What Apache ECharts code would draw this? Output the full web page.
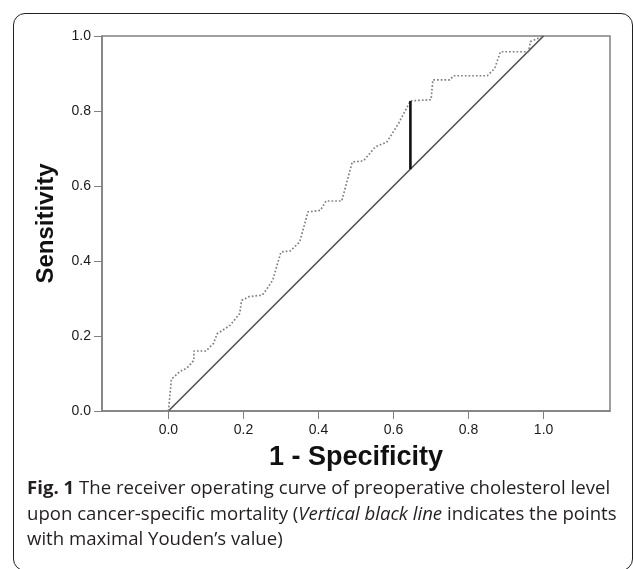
<!DOCTYPE html>
<html>
<head>
<meta charset="utf-8">
<script src="https://cdn.jsdelivr.net/npm/echarts@6/dist/echarts.min.js"></script>
<style>
  html, body { margin: 0; padding: 0; background: #fff; }
  #wrap { position: relative; width: 633px; height: 569px; overflow: hidden; }
  #chart { position: absolute; left: 0; top: 0; width: 633px; height: 569px; }
  .frame {
    position: absolute; left: 13px; top: 13px; width: 618px; height: 556px;
    border: 1.5px solid #222; border-radius: 12px; pointer-events: none;
  }
  .caption {
    position: absolute; left: 27px; top: 474px; width: 606px;
    font-family: "Open Sans", "Noto Sans", sans-serif; font-size: 18.6px;
    line-height: 25.5px; color: #231f20; white-space: nowrap;
  }
</style>
</head>
<body>
<div id="wrap">
  <div id="chart"></div>
  <div class="frame"></div>
  <div class="caption">
    <b>Fig. 1</b> The receiver operating curve of preoperative cholesterol level<br>
    upon cancer-specific mortality (<i>Vertical black line</i> indicates the points<br>
    with maximal Youden’s value)
  </div>
</div>
<script>
// ROC curve
const fpr = [0, 0.008, 0.03, 0.05, 0.068, 0.068, 0.1, 0.12, 0.13, 0.165, 0.19, 0.195, 0.215, 0.25, 0.26, 0.278, 0.3, 0.325, 0.35, 0.372, 0.405, 0.42, 0.462, 0.49, 0.52, 0.551, 0.582, 0.613, 0.645, 0.7, 0.705, 0.75, 0.76, 0.85, 0.87, 0.885, 0.96, 0.965, 1]
const tpr = [0, 0.085, 0.105, 0.115, 0.135, 0.16, 0.16, 0.18, 0.206, 0.229, 0.26, 0.295, 0.305, 0.309, 0.322, 0.349, 0.424, 0.427, 0.451, 0.531, 0.535, 0.56, 0.56, 0.664, 0.667, 0.704, 0.717, 0.766, 0.827, 0.83, 0.883, 0.883, 0.894, 0.894, 0.914, 0.958, 0.958, 0.985, 1]

const diagX = [0, 1]
const diagY = [0, 1]

// max Youden's index
const youdenX = [0.645, 0.645]
const youdenY = [0.645, 0.827]

const tickValues = [0, 0.2, 0.4, 0.6, 0.8, 1.0]

const zip = (xs, ys) => xs.map((x, i) => [x, ys[i]])

const chart = echarts.init(document.getElementById('chart'), null, { renderer: 'canvas' })

const axisColor = '#808080'
const font = '"Liberation Sans", Arial, sans-serif'
const labelStyle = { color: '#1a1a1a', fontSize: 14, fontFamily: font }

chart.setOption({
  backgroundColor: '#fff',
  animation: false,
  grid: {
    left: 102, top: 36, right: 23, bottom: 158,
    show: true, borderColor: axisColor, borderWidth: 1.5
  },
  xAxis: {
    type: 'value',
    min: -0.177,
    max: 1.177,
    name: '1 - Specificity',
    nameLocation: 'middle',
    nameGap: 33,
    nameTextStyle: { color: '#111', fontSize: 27, fontWeight: 'bold', fontFamily: font },
    axisLine: { show: true, onZero: false, lineStyle: { color: axisColor, width: 1.5 } },
    axisTick: { show: true, length: 8, customValues: tickValues, lineStyle: { color: axisColor } },
    axisLabel: { ...labelStyle, margin: 12, customValues: tickValues, formatter: v => v.toFixed(1) },
    splitLine: { show: false }
  },
  yAxis: {
    type: 'value',
    min: 0,
    max: 1,
    name: 'Sensitivity',
    nameLocation: 'middle',
    nameGap: 44,
    nameTextStyle: { color: '#111', fontSize: 24, fontWeight: 'bold', fontFamily: font },
    axisLine: { show: true, onZero: false, lineStyle: { color: axisColor, width: 1.5 } },
    axisTick: { show: true, length: 8, customValues: tickValues, lineStyle: { color: axisColor } },
    axisLabel: { ...labelStyle, margin: 11, customValues: tickValues, formatter: v => v.toFixed(1) },
    splitLine: { show: false }
  },
  series: [
    {
      name: 'Reference',
      type: 'line',
      data: zip(diagX, diagY),
      symbol: 'none',
      lineStyle: { color: '#505050', width: 1.6 }
    },
    {
      name: 'ROC',
      type: 'line',
      data: zip(fpr, tpr),
      symbol: 'none',
      lineStyle: { color: '#808080', width: 1.7, type: [1.7, 2] }
    },
    {
      name: 'Youden',
      type: 'line',
      data: zip(youdenX, youdenY),
      symbol: 'none',
      lineStyle: { color: '#111', width: 2.6 }
    }
  ]
})
</script>
</body>
</html>
